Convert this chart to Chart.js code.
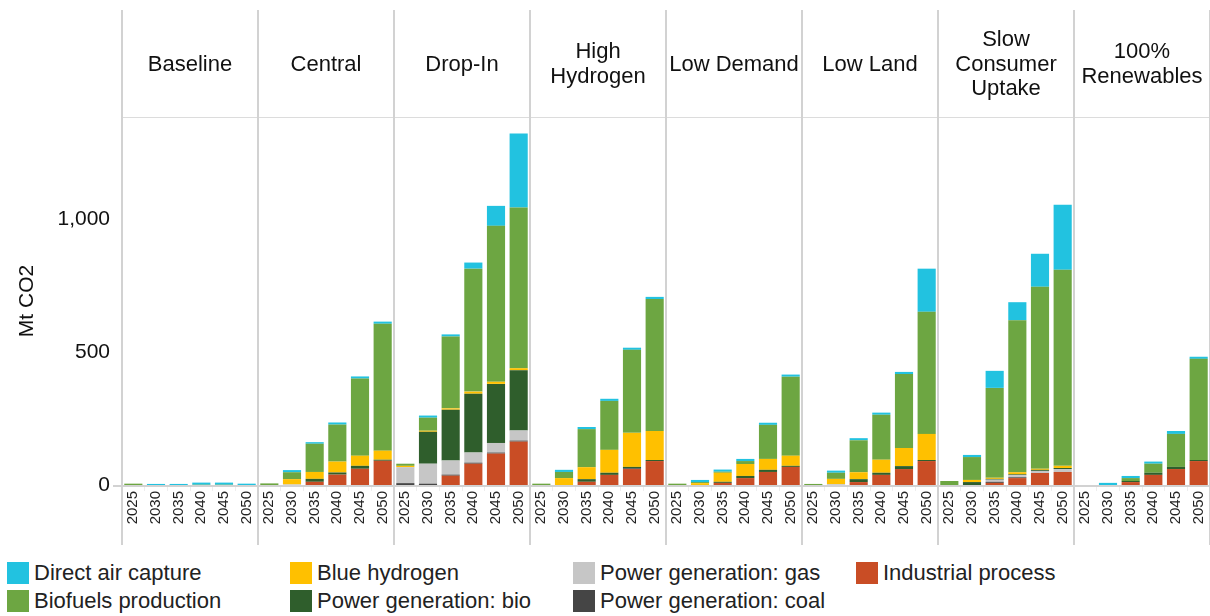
<!DOCTYPE html>
<html>
<head>
<meta charset="utf-8">
<script src="https://cdn.jsdelivr.net/npm/chart.js@4/dist/chart.umd.min.js"></script>
<style>
  body { margin: 0; background: #fff; font-family: "Liberation Sans", Arial, sans-serif; }
  #wrap { position: relative; width: 1210px; height: 550px; }
  #legend {
    display: grid;
    grid-template-columns: repeat(4, 283px);
    grid-template-rows: 28px 28px;
    grid-auto-flow: column;
    padding: 9px 0 0 7px;
    font-size: 22px;
    color: #222;
  }
  .item { display: flex; align-items: center; white-space: nowrap; }
  .sw { width: 22px; height: 22px; margin-right: 5px; flex: none; }
</style>
</head>
<body>
<div id="wrap"><canvas id="myChart"></canvas></div>
<div id="legend"></div>
<script>
const scenarios = ["Baseline", "Central", "Drop-In", "High\nHydrogen", "Low Demand", "Low Land", "Slow\nConsumer\nUptake", "100%\nRenewables"];
const years = ["2025", "2030", "2035", "2040", "2045", "2050"];
const yTicks = [0, 500, 1000];

// values per scenario, 2025..2050, Mt CO2
const industrial = [
  0, 0, 0, 0, 0, 0,
  0, 0, 12, 39, 61, 91,
  0, 0, 35, 80, 118, 163,
  0, 0, 12, 38, 60, 90,
  0, 0, 8, 26, 49, 68,
  0, 0, 11, 38, 60, 90,
  0, 0, 8, 26, 45, 49,
  0, 0, 11, 38, 60, 90
];
const coal = [
  0, 0, 0, 0, 0, 0,
  0, 0, 0, 0, 0, 0,
  7, 5, 4, 4, 4, 4,
  0, 0, 0, 0, 3, 0,
  0, 0, 0, 0, 0, 0,
  0, 0, 0, 0, 0, 0,
  0, 0, 4, 3, 0, 0,
  0, 0, 0, 0, 0, 0
];
const gas = [
  0, 0, 0, 0, 0, 0,
  0, 2, 0, 0, 0, 0,
  60, 75, 53, 38, 36, 38,
  0, 0, 0, 0, 0, 0,
  0, 0, 0, 0, 0, 0,
  0, 3, 0, 0, 0, 0,
  0, 0, 8, 8, 8, 11,
  0, 0, 0, 0, 0, 0
];
const bio = [
  0, 0, 0, 0, 0, 0,
  0, 0, 11, 8, 11, 4,
  0, 120, 191, 221, 222, 226,
  0, 0, 10, 8, 5, 4,
  0, 0, 4, 8, 8, 4,
  0, 0, 11, 8, 11, 4,
  0, 11, 3, 3, 4, 4,
  0, 0, 4, 8, 8, 4
];
const blueHydrogen = [
  0, 0, 0, 0, 0, 0,
  0, 20, 26, 41, 38, 34,
  5, 4, 5, 8, 8, 8,
  0, 26, 45, 86, 128, 109,
  0, 7, 34, 45, 41, 38,
  0, 20, 26, 49, 68, 98,
  0, 8, 4, 8, 4, 8,
  0, 0, 0, 0, 0, 0
];
const biofuels = [
  5, 0, 0, 1, 1, 0,
  6, 26, 106, 139, 290, 477,
  8, 49, 270, 462, 586, 604,
  5, 23, 143, 184, 312, 496,
  5, 4, 4, 11, 128, 297,
  4, 23, 120, 169, 278, 459,
  15, 86, 338, 571, 684, 737,
  0, 0, 11, 34, 124, 380
];
const dac = [
  0, 4, 4, 8, 8, 5,
  0, 8, 6, 8, 8, 8,
  0, 8, 8, 23, 75, 278,
  0, 8, 8, 8, 8, 8,
  0, 8, 8, 8, 8, 8,
  0, 8, 8, 8, 8, 162,
  0, 8, 64, 68, 124, 244,
  0, 8, 8, 8, 11, 8
];

const labels = [];
scenarios.forEach(() => years.forEach((y) => labels.push(y)));

const fontFamily = '"Liberation Sans", Arial, sans-serif';

const series = [
  { label: "Industrial process", data: industrial, color: "#c94d25" },
  { label: "Power generation: coal", data: coal, color: "#454545" },
  { label: "Power generation: gas", data: gas, color: "#c6c6c6" },
  { label: "Power generation: bio", data: bio, color: "#2f5e2c" },
  { label: "Blue hydrogen", data: blueHydrogen, color: "#ffc000" },
  { label: "Biofuels production", data: biofuels, color: "#6da642" },
  { label: "Direct air capture", data: dac, color: "#22c2e0" }
];

// panel separators, header line and scenario titles
const panels = {
  id: "panels",
  afterDraw(chart) {
    const c = chart.ctx;
    const x = chart.scales.x;
    const area = chart.chartArea;
    const w = x.width / scenarios.length;
    c.save();
    c.strokeStyle = "#dcdcdc";
    c.lineWidth = 1;
    c.beginPath();
    c.moveTo(x.left, area.top + 0.5);
    c.lineTo(x.right, area.top + 0.5);
    c.stroke();
    c.strokeStyle = "#d2d2d2";
    c.lineWidth = 2;
    c.beginPath();
    c.moveTo(x.left - 9, area.bottom + 1);
    c.lineTo(x.right, area.bottom + 1);
    c.stroke();
    for (let i = 0; i <= scenarios.length; i++) {
      const px = x.left + i * w;
      c.beginPath();
      c.moveTo(px, 10);
      c.lineTo(px, x.bottom - 5);
      c.stroke();
    }
    c.fillStyle = "#111";
    c.font = "22px " + fontFamily;
    c.textAlign = "center";
    c.textBaseline = "middle";
    const cy = (10 + area.top) / 2 + 1;
    scenarios.forEach((name, i) => {
      const lines = name.split("\n");
      const cx = x.left + (i + 0.5) * w;
      lines.forEach((line, j) => {
        c.fillText(line, cx, cy + (j - (lines.length - 1) / 2) * 24.5);
      });
    });
    c.restore();
  }
};

const myChart = new Chart(document.querySelector("#myChart"), {
  type: "bar",
  data: {
    labels: labels,
    datasets: series.map((s) => ({
      label: s.label,
      data: s.data,
      backgroundColor: s.color,
      borderWidth: 0,
      barPercentage: 0.8,
      categoryPercentage: 1
    }))
  },
  options: {
    responsive: true,
    maintainAspectRatio: false,
    animation: false,
    layout: { padding: { top: 117, right: 0, left: 0, bottom: 0 } },
    plugins: { legend: { display: false }, tooltip: { enabled: false } },
    scales: {
      x: {
        stacked: true,
        afterFit(scale) {
          scale.height = 65;
          scale.paddingLeft = 0;
          scale.paddingRight = 0;
        },
        grid: { display: true, drawOnChartArea: false, offset: true, tickLength: 6, color: "#eeeeee" },
        border: { display: false },
        ticks: {
          autoSkip: false,
          minRotation: 90,
          maxRotation: 90,
          padding: 0,
          color: "#222",
          font: { family: fontFamily, size: 15 }
        }
      },
      y: {
        stacked: true,
        min: 0,
        max: 1383,
        afterFit(scale) { scale.width = 122; },
        afterBuildTicks(scale) { scale.ticks = yTicks.map((v) => ({ value: v })); },
        grid: { display: false, drawTicks: false, tickLength: 0 },
        border: { display: false },
        title: {
          display: true,
          text: "Mt CO2",
          color: "#111",
          padding: { top: 15, bottom: 0 },
          font: { family: fontFamily, size: 21 }
        },
        ticks: {
          padding: 12,
          color: "#111",
          font: { family: fontFamily, size: 21 },
          callback: (v) => v.toLocaleString("en-US")
        }
      }
    }
  },
  plugins: [panels]
});

// html legend, column by column like the original
const legend = document.querySelector("#legend");
let box = ``;
series.slice().reverse().forEach((s) => {
  box += `<div class="item"><span class="sw" style="background:${s.color}"></span>${s.label}</div>`;
});
legend.innerHTML = box;
</script>
</body>
</html>
